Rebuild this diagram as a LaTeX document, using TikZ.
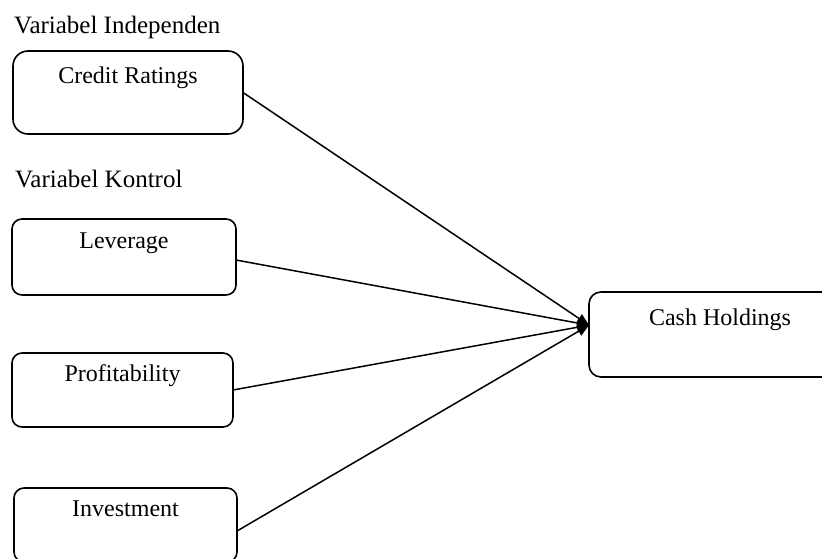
\documentclass[tikz,border=0pt]{standalone}
\usepackage{fontspec}
\setmainfont{Liberation Serif}
\usetikzlibrary{arrows.meta,calc}

\tikzset{
  varbox/.style={draw, line width=1.6pt, rounded corners=#1, inner sep=0pt, outer sep=0pt,
    align=center, font=\fontsize{24}{29}\selectfont},
  varbox/.default=10pt,
  heading/.style={anchor=base west, inner sep=0pt, font=\fontsize{25}{30}\selectfont},
  link/.style={line width=1.5pt, -{Triangle[length=12pt,width=10pt]}}
}

\begin{document}
\begin{tikzpicture}[x=1pt,y=-1pt]

    \useasboundingbox (0,0) rectangle (822,558);
    \clip (0,0) rectangle (822,558);

    % group labels
    \node[heading] (indep) at (14,33) {Variabel Independen};
    \node[heading] (kontrol) at (15,187) {Variabel Kontrol};

    % variables
    \node[varbox=15pt, minimum width=230pt, minimum height=83pt] (credit) at (128,92.5) {\strut Credit Ratings\\\strut};
    \node[varbox, minimum width=224pt, minimum height=76pt] (lev) at (124,257) {\strut Leverage\\\strut};
    \node[varbox, minimum width=221pt, minimum height=74pt] (prof) at (122.5,390) {\strut Profitability\\\strut};
    \node[varbox, minimum width=223pt, minimum height=74pt] (inv) at (125.5,525) {\strut Investment\\\strut};

    \node[varbox=12pt, minimum width=262pt, minimum height=85pt] (cash) at (720,334.5) {\strut Cash Holdings\\\strut};

    \coordinate (tip) at ($(cash.north west)!0.39!(cash.south west)$);

    \draw[link] (credit.east) -- (tip);
    \draw[link] ([yshift=-3pt]lev.east) -- (tip);
    \draw[link] (prof.east) -- (tip);
    \draw[link] ([yshift=-6pt]inv.east) -- (tip);

\end{tikzpicture}
\end{document}
